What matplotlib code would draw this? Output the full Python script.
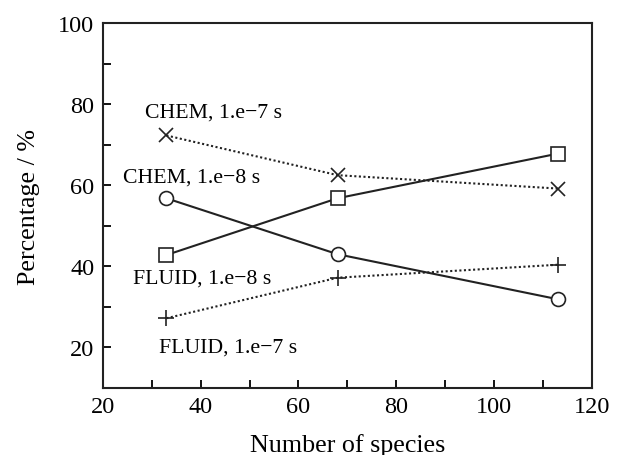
import matplotlib.pyplot as plt
from matplotlib.ticker import MultipleLocator

plt.rcParams['font.family'] = ['Liberation Serif', 'DejaVu Serif']
plt.rcParams['axes.unicode_minus'] = True

species = [33, 68, 113]
chem_7 = [72.3, 62.5, 59.2]
chem_8 = [56.8, 43.0, 31.9]
fluid_8 = [42.8, 56.8, 67.8]
fluid_7 = [27.2, 37.2, 40.4]

fig = plt.figure(figsize=(6.23, 4.56), dpi=100)
ax = fig.add_axes([0.165, 0.147, 0.785, 0.8])

dot = (0, (1, 1.2))
ax.plot(species, chem_7, color='#222222', ls=dot, lw=1.5, marker='x', ms=10, mew=1.2)
ax.plot(species, chem_8, color='#222222', ls='-', lw=1.5, marker='o', ms=10, mfc='white', mew=1.2)
ax.plot(species, fluid_8, color='#222222', ls='-', lw=1.5, marker='s', ms=10, mfc='white', mew=1.2)
ax.plot(species, fluid_7, color='#222222', ls=dot, lw=1.5, marker='+', ms=11, mew=1.2)

fs = 15.7
ax.text(28.6, 77.0, 'CHEM, 1.e\u22127 s', fontsize=fs, ha='left', va='baseline')
ax.text(24.1, 61.0, 'CHEM, 1.e\u22128 s', fontsize=fs, ha='left', va='baseline')
ax.text(26.1, 35.9, 'FLUID, 1.e\u22128 s', fontsize=fs, ha='left', va='baseline')
ax.text(31.5, 19.1, 'FLUID, 1.e\u22127 s', fontsize=fs, ha='left', va='baseline')

ax.set_xlim(20, 120)
ax.set_ylim(10, 100)
ax.xaxis.set_major_locator(MultipleLocator(20))
ax.xaxis.set_minor_locator(MultipleLocator(10))
ax.yaxis.set_major_locator(MultipleLocator(20))
ax.yaxis.set_minor_locator(MultipleLocator(10))
ax.tick_params(which='both', direction='in', length=6, width=1.3, labelsize=17.5, pad=6)
for s in ax.spines.values():
    s.set_linewidth(1.5)
    s.set_color('#222222')

ax.set_xlabel('Number of species', fontsize=18.7, labelpad=11)
ax.set_ylabel('Percentage / %', fontsize=18.7, labelpad=13)

fig.savefig('out.png', dpi=100)
